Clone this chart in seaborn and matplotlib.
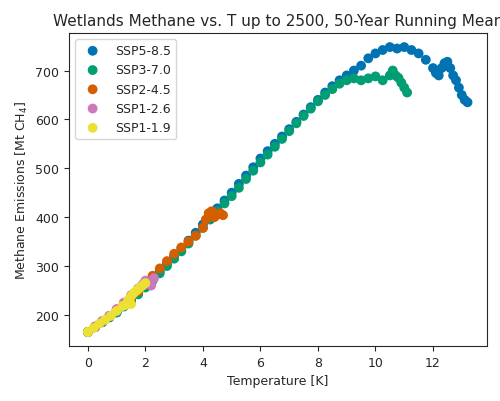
import matplotlib
matplotlib.use("Agg")
import matplotlib.pyplot as plt
import seaborn as sns

PAL = sns.color_palette("colorblind")

ssp585_t = [0, 0.25, 0.5, 0.75, 1, 1.25, 1.5, 1.75, 2, 2.25, 2.5, 2.75, 3, 3.25, 3.5, 3.75, 4, 4.25,
            4.5, 4.75, 5, 5.25, 5.5, 5.75, 6, 6.25, 6.5, 6.75, 7, 7.25, 7.5, 7.75, 8, 8.25, 8.5, 8.75,
            9, 9.25, 9.5, 9.75, 10, 10.25, 10.5, 10.75, 11, 11.25, 11.5, 11.75, 12, 12.1, 12.2, 12.3,
            12.4, 12.5, 12.6, 12.7, 12.8, 12.9, 13.0, 13.1, 13.2]
ssp585_m = [165, 175, 185, 195, 205, 218, 230, 245, 260, 275, 290, 305, 320, 336, 352, 368, 385, 402,
            418, 434, 450, 468, 485, 502, 520, 535, 550, 565, 580, 595, 610, 625, 640, 655, 668, 680,
            690, 700, 710, 725, 735, 742, 748, 745, 748, 742, 735, 722, 705, 695, 690, 705,
            715, 718, 705, 690, 680, 665, 650, 640, 635]

ssp370_t = [0, 0.25, 0.5, 0.75, 1, 1.25, 1.5, 1.75, 2, 2.25, 2.5, 2.75, 3, 3.25, 3.5, 3.75, 4, 4.25,
            4.5, 4.75, 5, 5.25, 5.5, 5.75, 6, 6.25, 6.5, 6.75, 7, 7.25, 7.5, 7.75, 8, 8.25, 8.5, 8.75,
            9, 9.25, 9.5, 9.75, 10, 10.25, 10.5, 10.6, 10.7, 10.8, 10.9, 11.0, 11.1]
ssp370_m = [165, 175, 185, 195, 205, 217, 228, 242, 256, 270, 285, 300, 315, 330, 346, 362, 378, 395,
            412, 428, 443, 460, 478, 495, 512, 528, 544, 560, 576, 592, 607, 622, 637, 650, 662, 673,
            680, 684, 680, 684, 688, 680, 690, 700, 690, 685, 675, 665, 655]

ssp245_t = [0, 0.25, 0.5, 0.75, 1, 1.25, 1.5, 1.75, 2, 2.25, 2.5, 2.75, 3, 3.25, 3.5, 3.75, 4, 4.1,
            4.2, 4.3, 4.4, 4.5, 4.6, 4.7]
ssp245_m = [165, 176, 187, 198, 210, 222, 234, 248, 262, 280, 295, 310, 325, 338, 350, 362, 378, 395,
            408, 412, 400, 405, 408, 404]

ssp126_t = [0, 0.25, 0.5, 0.75, 1, 1.25, 1.5, 1.75, 1.9, 2.0, 2.1, 2.2, 2.3]
ssp126_m = [165, 176, 187, 198, 212, 225, 240, 254, 262, 270, 268, 260, 275]

ssp119_t = [0, 0.2, 0.4, 0.6, 0.8, 1.0, 1.2, 1.4, 1.5, 1.6, 1.7, 1.8, 1.9, 2.0, 1.5, 1.3, 1.4]
ssp119_m = [165, 173, 182, 190, 198, 208, 218, 230, 238, 245, 250, 255, 260, 265, 222, 220, 228]

series = [
    ("SSP5-8.5", ssp585_t, ssp585_m, PAL[0]),
    ("SSP3-7.0", ssp370_t, ssp370_m, PAL[2]),
    ("SSP2-4.5", ssp245_t, ssp245_m, PAL[3]),
    ("SSP1-2.6", ssp126_t, ssp126_m, PAL[4]),
    ("SSP1-1.9", ssp119_t, ssp119_m, PAL[8]),
]

sns.set_style("ticks")
plt.rcParams["font.size"] = 9
fig, ax = plt.subplots(figsize=(5, 4.02), dpi=100)
for name, t, m, c in series:
    sns.scatterplot(x=t, y=m, color=c, s=50, edgecolor="none", label=name, ax=ax)

ax.set_xlabel("Temperature [K]", fontsize=9)
ax.set_ylabel("Methane Emissions [Mt CH$_4$]", fontsize=9)
ax.set_title("Wetlands Methane vs. T up to 2500, 50-Year Running Mean", fontsize=11)
ax.set_xticks([0, 2, 4, 6, 8, 10, 12])
ax.set_yticks([200, 300, 400, 500, 600, 700])
ax.tick_params(labelsize=9)
ax.legend(loc="upper left", fontsize=9, markerscale=1.0)
plt.tight_layout()
fig.savefig("out.png", dpi=100)
